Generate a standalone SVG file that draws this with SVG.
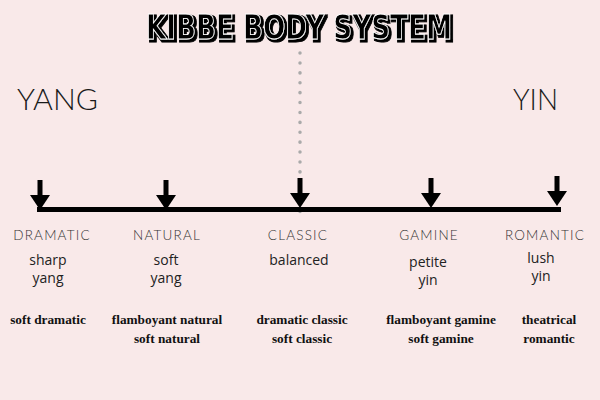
<svg xmlns="http://www.w3.org/2000/svg" width="600" height="400" viewBox="0 0 600 400">
<defs>
<style>
.title{font-family:"DejaVu Sans",sans-serif;font-weight:bold;font-size:33px}
.pole{font-family:"Lato","DejaVu Sans",sans-serif;font-weight:300;font-size:30px;fill:#1a1a1a}
.type{font-family:"Lato","DejaVu Sans",sans-serif;font-weight:300;font-size:13.5px;fill:#333;letter-spacing:1.2px;text-anchor:middle}
.desc{font-family:"Open Sans","Noto Sans",sans-serif;font-size:14px;fill:#222;text-anchor:middle}
.sub{font-family:"Liberation Serif",serif;font-weight:bold;font-size:13.3px;fill:#111;text-anchor:middle}
.arrow{fill:#000}
</style>
<filter id="shade" x="-5%" y="-30%" width="110%" height="160%">
<feMorphology in="SourceAlpha" operator="dilate" radius="1" result="d"/>
<feOffset in="d" dx="2" dy="2" result="o"/>
<feFlood flood-color="#000"/>
<feComposite in2="o" operator="in" result="sh"/>
<feMerge><feMergeNode in="sh"/><feMergeNode in="SourceGraphic"/></feMerge>
</filter>
<g id="arrowhead">
<rect x="-2.5" y="0" width="5" height="16"/>
<polygon points="-10,15 10,15 0,30"/>
</g>
</defs>
<rect width="600" height="400" fill="#f9e9e9"/>
<g id="title">
<text class="title" x="299" y="39" text-anchor="middle" textLength="306" lengthAdjust="spacingAndGlyphs" fill="#000" stroke="#fff" stroke-width="0.9" filter="url(#shade)">KIBBE BODY SYSTEM</text>
</g>
<g id="poles">
<text class="pole" x="17" y="110" textLength="81" lengthAdjust="spacingAndGlyphs">YANG</text>
<text class="pole" x="513" y="110" textLength="45" lengthAdjust="spacingAndGlyphs">YIN</text>
</g>
<g id="connectors">
<line x1="300" y1="53" x2="300" y2="218" stroke="#aaa" stroke-width="3.5" stroke-dasharray="0.1 9.8" stroke-linecap="round"/>
<line x1="37" y1="209.5" x2="561" y2="209.5" stroke="#000" stroke-width="5"/>
<use href="#arrowhead" x="40" y="180" class="arrow"/>
<use href="#arrowhead" x="166" y="180" class="arrow"/>
<use href="#arrowhead" x="300" y="178" class="arrow"/>
<use href="#arrowhead" x="431" y="178" class="arrow"/>
<use href="#arrowhead" x="557" y="176" class="arrow"/>
</g>
<g id="dramatic">
<text class="type" x="52" y="240">DRAMATIC</text>
<text class="desc" x="48" y="265">sharp</text>
<text class="desc" x="48" y="283">yang</text>
<text class="sub" x="48" y="324">soft dramatic</text>
</g>
<g id="natural">
<text class="type" x="167" y="240">NATURAL</text>
<text class="desc" x="166" y="265">soft</text>
<text class="desc" x="166" y="283">yang</text>
<text class="sub" x="167" y="324">flamboyant natural</text>
<text class="sub" x="167" y="343">soft natural</text>
</g>
<g id="classic">
<text class="type" x="298" y="240">CLASSIC</text>
<text class="desc" x="299" y="265">balanced</text>
<text class="sub" x="302" y="324">dramatic classic</text>
<text class="sub" x="302" y="343">soft classic</text>
</g>
<g id="gamine">
<text class="type" x="429" y="240">GAMINE</text>
<text class="desc" x="428" y="267">petite</text>
<text class="desc" x="428" y="285">yin</text>
<text class="sub" x="441" y="324">flamboyant gamine</text>
<text class="sub" x="441" y="343">soft gamine</text>
</g>
<g id="romantic">
<text class="type" x="545" y="240">ROMANTIC</text>
<text class="desc" x="541" y="263">lush</text>
<text class="desc" x="541" y="281">yin</text>
<text class="sub" x="549" y="324">theatrical</text>
<text class="sub" x="549" y="343">romantic</text>
</g>
</svg>
